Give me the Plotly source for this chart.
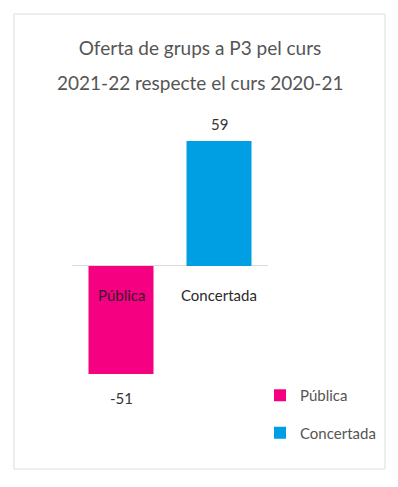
import plotly.graph_objects as go

categories = ["Pública", "Concertada"]
values = [-51, 59]
colors = ["#F50080", "#009FE3"]
title_line1 = "Oferta de grups a P3 pel curs"
title_line2 = "2021-22 respecte el curs 2020-21"

FONT = "Lato"
W, H = 398, 487
OFF = 8  # page body margin offset

# target screen geometry (pixels)
PL, PR, PT, PB = 72 - OFF, 268 - OFF, 110 - OFF, 410 - OFF
PW, PH = PR - PL, PB - PT


def px(x):
    return (x - OFF - PL) / PW


def py(y):
    return (PB - (y - OFF)) / PH


fig = go.Figure()
for cat, val, col in zip(categories, values, colors):
    fig.add_trace(go.Bar(
        x=[cat], y=[val], name=cat, legendgroup=cat,
        marker=dict(color=col, line=dict(width=0)),
        hoverinfo="x+y",
    ))

label_colors = ["#3a1530", "#2a2a2a"]
annotations = []
for cat, val, lc in zip(categories, values, label_colors):
    annotations.append(dict(
        x=cat, y=val, xref="x", yref="y", text=str(val), showarrow=False,
        yanchor="middle", yshift=17 if val > 0 else -24,
        font=dict(family=FONT, size=15, color="#333333"),
    ))
    annotations.append(dict(
        x=cat, y=0, xref="x", yref="y", text=cat, showarrow=False,
        yanchor="middle", yshift=-29,
        font=dict(family=FONT, size=15, color=lc),
    ))

annotations.append(dict(
    x=px(200), xref="paper", xanchor="center",
    y=py(82), yref="paper", yanchor="middle",
    text=title_line2, showarrow=False,
    font=dict(family=FONT, size=19, color="#555555"),
))

fig.update_layout(
    width=W, height=H,
    margin=dict(l=PL, r=W - PR, t=PT, b=H - PB),
    paper_bgcolor="white", plot_bgcolor="white",
    barmode="relative", bargap=0.337,
    title=dict(text=title_line1, x=(200 - OFF) / W, xanchor="center",
               y=1 - (48 - OFF) / H, yanchor="middle",
               font=dict(family=FONT, size=19, color="#555555")),
    xaxis=dict(visible=False, range=[-0.5, 1.5]),
    yaxis=dict(range=[-68, 73.6], showgrid=False, showticklabels=False,
               zeroline=True, zerolinecolor="#d9d9d9", zerolinewidth=1),
    showlegend=True,
    legend=dict(x=px(260), xanchor="left", y=py(379), yanchor="top",
                font=dict(family=FONT, size=15, color="#555555"),
                itemwidth=30,
                traceorder="grouped", tracegroupgap=15, bgcolor="rgba(0,0,0,0)"),
    annotations=annotations,
    shapes=[dict(type="rect", xref="paper", yref="paper",
                 x0=px(14), x1=px(385), y0=py(469), y1=py(14),
                 line=dict(color="#dddddd", width=1), fillcolor="rgba(0,0,0,0)", layer="below")],
)

fig.write_html("out.html")
